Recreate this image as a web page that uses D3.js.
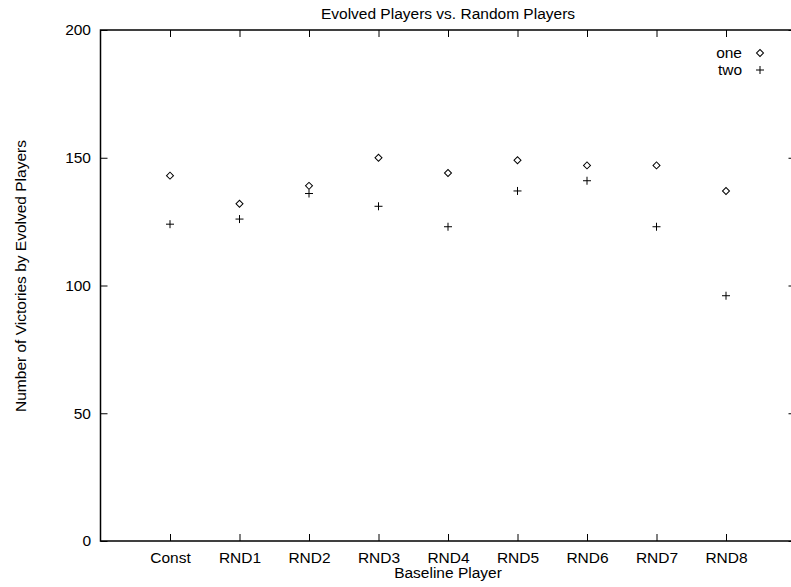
<!DOCTYPE html>
<html>
<head>
<meta charset="utf-8">
<script src="https://cdn.jsdelivr.net/npm/d3@7"></script>
<style>
  body { margin: 0; background: #fff; }
  svg { display: block; font-family: "Liberation Sans", Arial, sans-serif; }
  .axis text { font-size: 15.5px; fill: #000; }
  .axis line { stroke: #000; stroke-width: 1; }
</style>
</head>
<body>
<svg width="791" height="587"></svg>
<script>
// baseline players along x (positions 1..9)
var players = ["Const", "RND1", "RND2", "RND3", "RND4", "RND5", "RND6", "RND7", "RND8"];
// victories by evolved players
var one = [143, 132, 139, 150, 144, 149, 147, 147, 137];
var two = [124, 126, 136, 131, 123, 137, 141, 123, 96];
var yTicks = [0, 50, 100, 150, 200];

var svg = d3.select("svg"),
    margin = {top: 30, left: 100.5, bottom: 541, right: 795.5};

var x = d3.scaleLinear().domain([0, 10]).range([margin.left, margin.right]),
    y = d3.scaleLinear().domain([0, 200]).range([margin.bottom, margin.top]);

var idx = d3.range(1, players.length + 1);

// axes, ticks pointing inward
var xAxis = d3.axisBottom(x).tickValues(idx)
    .tickFormat(function (d) { return players[d - 1]; })
    .tickSize(-7).tickPadding(10.5);
var xAxisTop = d3.axisTop(x).tickValues(idx).tickFormat("").tickSize(-7);
var yAxis = d3.axisLeft(y).tickValues(yTicks).tickSize(-7).tickPadding(9.5);
var yAxisRight = d3.axisRight(y).tickValues(yTicks).tickFormat("").tickSize(-7);

svg.append("g").attr("class", "axis")
    .attr("transform", "translate(0," + margin.bottom + ")")
    .call(xAxis);
svg.append("g").attr("class", "axis")
    .attr("transform", "translate(0," + margin.top + ")")
    .call(xAxisTop);
svg.append("g").attr("class", "axis")
    .attr("transform", "translate(" + margin.left + ",0)")
    .call(yAxis);
svg.append("g").attr("class", "axis")
    .attr("transform", "translate(" + margin.right + ",0)")
    .call(yAxisRight);
svg.selectAll(".axis .domain").remove();

// frame
svg.append("rect")
    .attr("x", x(0)).attr("y", y(200))
    .attr("width", x(10) - x(0)).attr("height", y(0) - y(200))
    .attr("fill", "none").attr("stroke", "#000").attr("stroke-width", 1.5);

// title and axis labels
svg.append("text")
    .attr("x", x(5)).attr("y", 19)
    .attr("text-anchor", "middle").style("font-size", "15.5px")
    .text("Evolved Players vs. Random Players");
svg.append("text")
    .attr("x", x(5)).attr("y", 578)
    .attr("text-anchor", "middle").style("font-size", "15.5px")
    .text("Baseline Player");
svg.append("text")
    .attr("transform", "translate(26," + 276 + ") rotate(-90)")
    .attr("text-anchor", "middle").style("font-size", "15.5px")
    .text("Number of Victories by Evolved Players");

var diamond = d3.symbol().type(d3.symbolSquare).size(24.5);

function drawDiamond(g, cx, cy) {
    g.append("path")
        .attr("d", diamond)
        .attr("transform", "translate(" + cx + "," + cy + ") rotate(45)")
        .attr("fill", "none").attr("stroke", "#000").attr("stroke-width", 1);
}
function drawPlus(g, cx, cy) {
    g.append("line").attr("x1", cx - 4).attr("x2", cx + 4).attr("y1", cy).attr("y2", cy)
        .attr("stroke", "#000").attr("stroke-width", 1);
    g.append("line").attr("x1", cx).attr("x2", cx).attr("y1", cy - 4).attr("y2", cy + 4)
        .attr("stroke", "#000").attr("stroke-width", 1);
}

var pts = svg.append("g");
one.forEach(function (v, i) { drawDiamond(pts, x(i + 1), y(v)); });
two.forEach(function (v, i) { drawPlus(pts, x(i + 1), y(v)); });

// legend
var legend = svg.append("g");
legend.append("text").attr("x", 742).attr("y", 53).attr("dy", "0.35em")
    .attr("text-anchor", "end").style("font-size", "15.5px").text("one");
legend.append("text").attr("x", 742).attr("y", 70).attr("dy", "0.35em")
    .attr("text-anchor", "end").style("font-size", "15.5px").text("two");
drawDiamond(legend, 760, 53);
drawPlus(legend, 760, 70);
</script>
</body>
</html>
